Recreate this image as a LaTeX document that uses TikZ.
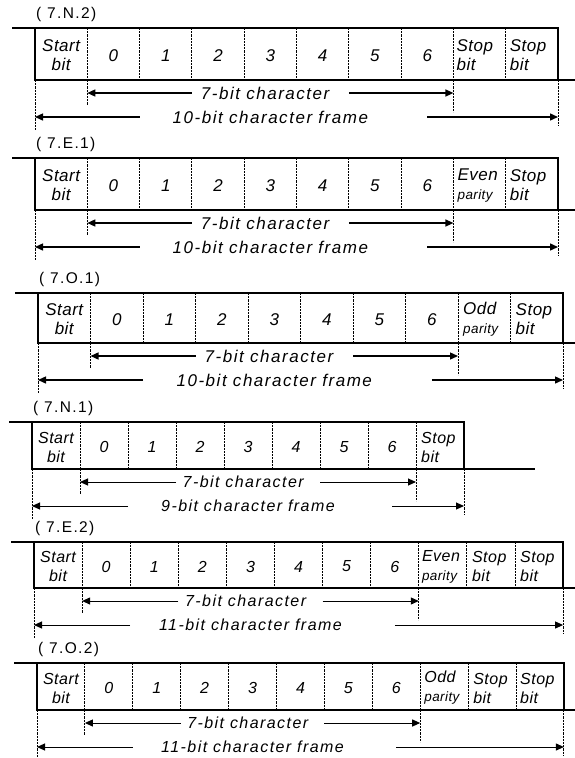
\documentclass[tikz,border=0pt]{standalone}
\usepackage{fontspec}
\setmainfont{Liberation Sans}
\newfontfamily\cellfont[LetterSpace=3]{Liberation Sans}
\newfontfamily\labelfont[LetterSpace=9]{Liberation Sans}
\usetikzlibrary{arrows.meta}
\newcommand\fs{17}
\newcommand\pty{{\fontsize{13.5}{14}\selectfont parity}}
\tikzset{
  fig/.style={x=1pt,y=-1pt,line join=miter,>={Triangle[length=8pt,width=7pt]}},
  outline/.style={line width=1.5pt},
  divider/.style={line width=0.9pt,dash pattern=on 2.2pt off 1pt},
  guide/.style={line width=0.9pt,dash pattern=on 2.2pt off 1pt},
  bitarrow/.style={->,line width=1.4pt},
  cell/.style={inner sep=0pt,align=center,font=\cellfont\itshape\fontsize{\fs}{19}\selectfont},
  tail/.style={cell,align=left,anchor=west},
  tag/.style={inner sep=0pt,anchor=west,font=\labelfont\fontsize{15.5}{17}\selectfont},
  span/.style={inner sep=0pt,font=\labelfont\itshape\fontsize{\fs}{19}\selectfont},
}
% #1 name, #2 tag, #3 top, #4 bottom, #5 left, #6 cell width, #7 cells,
% #8 end of bottom line, #9 frame text
\newcommand\bitframe[9]{%
  \pgfmathsetmacro\ymid{(#3+#4)/2+1.5}
  \pgfmathsetmacro\yone{#4+13}
  \pgfmathsetmacro\ytwo{#4+37}
  \pgfmathsetmacro\xright{#5+#7*#6}
  \pgfmathtruncatemacro\nlast{#7-1}
  \coordinate (#1-idle) at (#5-23,#3);
  \coordinate (#1-tl) at (#5,#3);
  \coordinate (#1-tr) at (\xright,#3);
  \coordinate (#1-bl) at (#5,#4);
  \coordinate (#1-br) at (\xright,#4);
  \coordinate (#1-end) at (#8,#4);
  \foreach \i in {0,...,#7}{\coordinate (#1-b\i) at (#5+\i*#6,\ymid);}
  \node[tag] (#1-tag) at (#5+1,#3-14) {#2};
  % cell borders
  \foreach \i in {1,...,\nlast}{\draw[divider] (#5+\i*#6,#3) -- (#5+\i*#6,#4);}
  \draw[outline] (#1-idle) -- (#1-tl) -- (#1-bl) -- (#1-end);
  \draw[outline] (#1-tl) -- (#1-tr) -- (#1-br);
  % cells
  \node[cell] (#1-start) at (#5+0.5*#6,\ymid) {Start\\bit};
  \foreach \d in {0,...,6}{\node[cell] (#1-d\d) at (#5+\d*#6+1.5*#6,\ymid) {\d};}
  % guides below
  \draw[guide] (#1-bl) -- ++(0,50);
  \draw[guide] (#1-b1 |- #1-bl) -- ++(0,25);
  \draw[guide] (#1-b8 |- #1-bl) -- ++(0,32);
  \draw[guide] (#1-br) -- ++(0,45);
  % spans
  \node[span] (#1-char) at (#5+4.4*#6,\yone) {7-bit character};
  \draw[bitarrow] (#5+3*#6,\yone) -- (#1-b1 |- #1-char);
  \draw[bitarrow] (#5+6*#6,\yone) -- (#1-b8 |- #1-char);
  \node[span] (#1-frame) at (#5+4.5*#6,\ytwo) {#9};
  \draw[bitarrow] (#5+2*#6,\ytwo) -- (#1-b0 |- #1-frame);
  \draw[bitarrow] (#5+7.5*#6,\ytwo) -- (#1-br |- #1-frame);
}
\begin{document}
\begin{tikzpicture}[fig]
  \useasboundingbox (0,0) rectangle (575,758);
  \bitframe{n2}{( 7.N.2)}{28}{80}{35}{52.3}{10}{575}{10-bit character frame}
  \node[tail] (n2-s1) at ([xshift=3pt]n2-b8) {Stop\\bit};
  \node[tail] (n2-s2) at ([xshift=4pt]n2-b9) {Stop\\bit};

  \bitframe{e1}{( 7.E.1)}{158}{210}{35}{52.3}{10}{575}{10-bit character frame}
  \node[tail] (e1-p) at ([xshift=4pt]e1-b8) {Even\\\pty};
  \node[tail] (e1-s1) at ([xshift=4pt]e1-b9) {Stop\\bit};

  \bitframe{o1}{( 7.O.1)}{293}{343}{38}{52.5}{10}{575}{10-bit character frame}
  \node[tail] (o1-p) at ([xshift=5pt]o1-b8) {Odd\\\pty};
  \node[tail] (o1-s1) at ([xshift=5pt]o1-b9) {Stop\\bit};

  \renewcommand\fs{16}
  \tikzset{bitarrow/.style={->,line width=1pt}}
  \bitframe{n1}{( 7.N.1)}{422}{469}{32}{48}{9}{535}{9-bit character frame}
  \node[tail] (n1-s1) at ([xshift=5pt]n1-b8) {Stop\\bit};

  \bitframe{e2}{( 7.E.2)}{542}{588}{34}{48.1}{11}{575}{11-bit character frame}
  \node[tail] (e2-p) at ([xshift=3pt]e2-b8) {Even\\\pty};
  \node[tail] (e2-s1) at ([xshift=5pt]e2-b9) {Stop\\bit};
  \node[tail] (e2-s2) at ([xshift=5pt]e2-b10) {Stop\\bit};

  \bitframe{o2}{( 7.O.2)}{663}{710}{37}{47.9}{11}{575}{11-bit character frame}
  \node[tail] (o2-p) at ([xshift=4pt]o2-b8) {Odd\\\pty};
  \node[tail] (o2-s1) at ([xshift=5pt]o2-b9) {Stop\\bit};
  \node[tail] (o2-s2) at ([xshift=4pt]o2-b10) {Stop\\bit};
\end{tikzpicture}
\end{document}
